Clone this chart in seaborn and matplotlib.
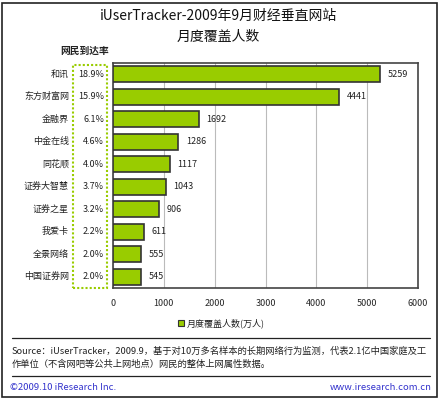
import pandas as pd
import matplotlib.pyplot as plt
import seaborn as sns
from matplotlib.patches import Rectangle
from matplotlib.lines import Line2D
from matplotlib import transforms

sites = ['和讯', '东方财富网', '金融界', '中金在线', '同花顺',
         '证券大智慧', '证券之星', '我爱卡', '全景网络', '中国证券网']
coverage = [5259, 4441, 1692, 1286, 1117, 1043, 906, 611, 555, 545]
reach = ['18.9%', '15.9%', '6.1%', '4.6%', '4.0%',
         '3.7%', '3.2%', '2.2%', '2.0%', '2.0%']
x_ticks = [0, 1000, 2000, 3000, 4000, 5000, 6000]

if __name__ == '__main__':
    df = pd.DataFrame({'site': sites, 'coverage': coverage})

    sns.set_theme(style='white')
    plt.rcParams['font.family'] = ['Noto Sans CJK SC', 'DejaVu Sans']

    W, H = 440, 399
    fig = plt.figure(figsize=(W / 100, H / 100), dpi=100)
    ax = fig.add_axes([113 / W, 1 - 288 / H, 305 / W, 225 / H])

    sns.barplot(data=df, x='coverage', y='site', orient='h', ax=ax,
                color='#99CC00', saturation=1, width=0.7,
                edgecolor='#333333', linewidth=1.2, zorder=3)

    ax.set_xlim(0, 6000)
    ax.set_xticks(x_ticks)
    ax.set_xticklabels([str(t) for t in x_ticks], fontsize=6.5)
    ax.tick_params(axis='x', length=0, pad=8)
    ax.set_yticks(range(len(sites)))
    ax.set_yticklabels([])
    ax.tick_params(axis='y', length=0)
    ax.set_xlabel('')
    ax.set_ylabel('')
    ax.grid(axis='x', color='#BBBBBB', linewidth=0.8, zorder=0)
    for s in ax.spines.values():
        s.set_color('#444444')
        s.set_linewidth(1.2)

    # value labels
    for i, v in enumerate(coverage):
        ax.text(v + 150, i, str(v), va='center', ha='left', fontsize=6.5,
                color='#222222')

    # site names and reach percentages
    trans = transforms.blended_transform_factory(ax.transAxes, ax.transData)
    for i, (name, r) in enumerate(zip(sites, reach)):
        ax.text((69 - 113) / 305, i, name, va='center', ha='right',
                fontsize=6.5, color='#222222', transform=trans)
        ax.text((104 - 113) / 305, i, r, va='center', ha='right',
                fontsize=6.5, color='#222222', transform=trans)

    # dotted box around reach column
    fig.patches.append(Rectangle((73 / W, 1 - 288 / H), 34 / W, 223 / H,
                                 transform=fig.transFigure, fill=False,
                                 edgecolor='#99CC00', linestyle=(0, (1, 1)),
                                 linewidth=1.5))
    fig.text(85 / W, 1 - 51 / H, '网民到达率', ha='center', va='center',
             fontsize=7, fontweight='bold', color='#222222')

    # title
    fig.text(218 / W, 1 - 16 / H, 'iUserTracker-2009年9月财经垂直网站',
             ha='center', va='center', fontsize=10, color='#111111')
    fig.text(218 / W, 1 - 37 / H, '月度覆盖人数', ha='center', va='center',
             fontsize=10, color='#111111')

    # legend
    fig.patches.append(Rectangle((178 / W, 1 - 326 / H), 6 / W, 6 / H,
                                 transform=fig.transFigure,
                                 facecolor='#99CC00', edgecolor='#333333',
                                 linewidth=0.8))
    fig.text(187 / W, 1 - 323 / H, '月度覆盖人数(万人)', ha='left',
             va='center', fontsize=6.5, color='#222222')

    # separator lines
    for y in (338, 376):
        fig.lines.append(Line2D([12 / W, 430 / W], [1 - y / H, 1 - y / H],
                                transform=fig.transFigure, color='#222222',
                                linewidth=0.9))

    fig.text(12 / W, 1 - 351 / H,
             'Source：iUserTracker，2009.9，基于对10万多名样本的长期网络行为监测，代表2.1亿中国家庭及工',
             ha='left', va='center', fontsize=6.7, color='#222222')
    fig.text(12 / W, 1 - 364 / H,
             '作单位（不含网吧等公共上网地点）网民的整体上网属性数据。',
             ha='left', va='center', fontsize=6.7, color='#222222')

    fig.text(10 / W, 1 - 388 / H, '©2009.10 iResearch Inc.', ha='left',
             va='center', fontsize=6.8, color='#3333CC')
    fig.text(432 / W, 1 - 388 / H, 'www.iresearch.com.cn', ha='right',
             va='center', fontsize=6.8, color='#3333CC')

    # outer border
    fig.patches.append(Rectangle((2 / W, 2 / H), 435 / W, 394 / H,
                                 transform=fig.transFigure, fill=False,
                                 edgecolor='#222222', linewidth=1.2))

    plt.savefig('out.png', dpi=100)
